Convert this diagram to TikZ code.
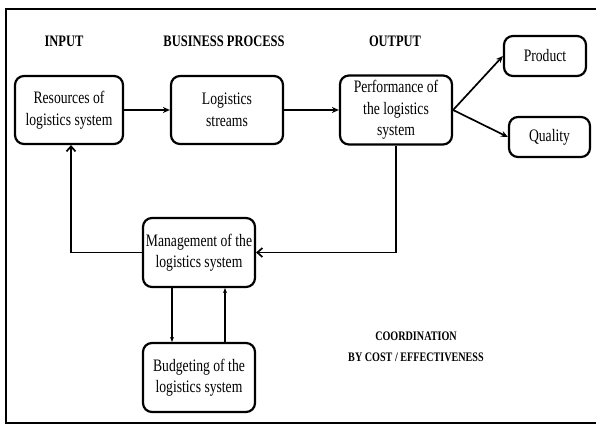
\documentclass[tikz,border=0pt]{standalone}
\usepackage{fontspec}
\setmainfont[FakeStretch=0.78]{Liberation Serif}
\usetikzlibrary{arrows.meta}

\begin{document}
\begin{tikzpicture}[
          x=1pt, y=-1pt,
          every node/.style={
            align=center,
            font=\fontsize{17.5}{21.5}\selectfont,
          },
          box/.style={
            draw,
            line width=2.2pt,
            rounded corners=9pt,
            inner sep=2pt,
          },
          heading/.style={
            font=\bfseries\fontsize{16}{21}\selectfont,
          },
          line width=1.7pt,
          >={Stealth[length=7pt,width=6pt]},
          fb/.tip={Straight Barb[length=5pt,width=9pt,line width=1.7pt]},
        ]
        \useasboundingbox (0,0) rectangle (596,425) ;
        \draw[line width=2.5pt] (596,9) -- (6,9) -- (6,423) -- (596,423) ;
        % headings
        \node[heading] (input) at (64,41) {INPUT} ;
        \node[heading] (bp) at (224,41) {BUSINESS PROCESS} ;
        \node[heading] (output) at (395,41) {OUTPUT} ;
        \node[heading, font=\bfseries\fontsize{13}{21}\selectfont] (coord) at (416,347)
          {COORDINATION\\BY COST / EFFECTIVENESS} ;
        % boxes
        \node[box, minimum width=108pt, minimum height=68pt] (res) at (69,110)
          {Resources of\\logistics system} ;
        \node[box, minimum width=112pt, minimum height=68pt] (streams) at (227,110)
          {Logistics\\streams} ;
        \node[box, minimum width=112pt, minimum height=69pt] (perf) at (396,110)
          {Performance of\\the logistics\\system} ;
        \node[box, minimum width=82pt, minimum height=40pt] (product) at (545,56) {Product} ;
        \node[box, minimum width=81pt, minimum height=40pt] (quality) at (549.5,137) {Quality} ;
        \node[box, minimum width=112pt, minimum height=69pt] (mgmt) at (199,252.5)
          {Management of the\\logistics system} ;
        \node[box, minimum width=112pt, minimum height=69pt] (budget) at (199,377.5)
          {Budgeting of the\\logistics system} ;
        % connectors
        \draw[->] (res)--(streams) ;
        \draw[->] (streams)--(perf) ;
        \draw[->] (perf.east)--(product.west) ;
        \draw[->] (perf.east)--(quality.west) ;
        \draw[-fb] (perf.south) |- (mgmt.east) ;
        \draw[-fb] (mgmt.west) -| ([xshift=2pt]res.south) ;
        \draw[->, line width=1.4pt, >={Stealth[length=5pt,width=4pt]}]
          ([xshift=-27pt]mgmt.south)--([xshift=-27pt]budget.north) ;
        \draw[->, line width=1.4pt, >={Stealth[length=5pt,width=4pt]}]
          ([xshift=26pt]budget.north)--([xshift=26pt]mgmt.south) ;
        \end{tikzpicture}
\end{document}
